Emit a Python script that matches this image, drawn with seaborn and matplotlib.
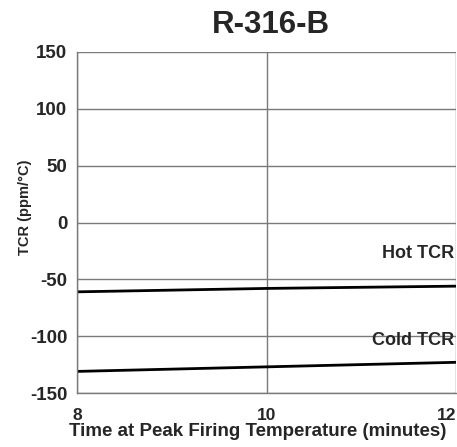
import matplotlib
matplotlib.use("Agg")
import matplotlib.pyplot as plt
import matplotlib.transforms as mtransforms
import seaborn as sns
import pandas as pd

# TCR vs. firing time for R-316-B
time_min = [8, 10, 12]
hot_tcr = [-61, -58, -56]
cold_tcr = [-131, -127, -123]
x_ticks = [8, 10, 12]
y_ticks = [-150, -100, -50, 0, 50, 100, 150]

df = pd.DataFrame({
    "time": time_min * 2,
    "tcr": hot_tcr + cold_tcr,
    "series": ["Hot TCR"] * len(time_min) + ["Cold TCR"] * len(time_min),
})

sns.set_style("white")
plt.rcParams["font.family"] = ["Liberation Sans", "DejaVu Sans"]

fig = plt.figure(figsize=(4.57, 4.47), dpi=100)
ax = fig.add_axes([77 / 457, 54 / 447, 379 / 457, 341 / 447])

sns.lineplot(data=df, x="time", y="tcr", hue="series",
             palette=["black", "black"], linewidth=2.0, legend=False, ax=ax)

ax.set_xlim(8, 12)
ax.set_ylim(-150, 150)
ax.set_xticks(x_ticks)
ax.set_yticks(y_ticks)
ax.set_xticklabels([str(t) for t in x_ticks], fontsize=12.5, fontweight="bold")
ax.set_yticklabels([str(t) for t in y_ticks], fontsize=13.5, fontweight="bold")

# last x tick label sits flush right and slightly raised
last = ax.get_xticklabels()[-1]
last.set_horizontalalignment("right")
last.set_transform(last.get_transform() +
                   mtransforms.ScaledTranslation(0, 4 / 72, fig.dpi_scale_trans))

grid_c = "#7a7a7a"
ax.grid(True, color=grid_c, linewidth=1.0)
ax.set_axisbelow(True)
ax.tick_params(axis="x", length=0, pad=11)
ax.tick_params(axis="y", length=6.5, width=1.0, color=grid_c, pad=0.5)

for side in ["top", "right"]:
    ax.spines[side].set_visible(False)
for side in ["left", "bottom"]:
    ax.spines[side].set_color(grid_c)
    ax.spines[side].set_linewidth(1.0)

ax.set_xlabel("Time at Peak Firing Temperature (minutes)", fontsize=13.5,
              fontweight="bold")
ax.xaxis.set_label_coords(0.478, -0.088)
ax.set_ylabel("TCR (ppm/°C)", fontsize=10.5, fontweight="bold")
ax.yaxis.set_label_coords(-0.118, 0.545)

ax.set_title("R-316-B", fontsize=22.5, fontweight="bold", x=0.512, y=1.056, pad=0)

ax.text(11.98, -27, "Hot TCR", ha="right", va="center", fontsize=13,
        fontweight="bold")
ax.text(11.98, -104, "Cold TCR", ha="right", va="center", fontsize=13,
        fontweight="bold")

fig.savefig("out.png", dpi=100)
